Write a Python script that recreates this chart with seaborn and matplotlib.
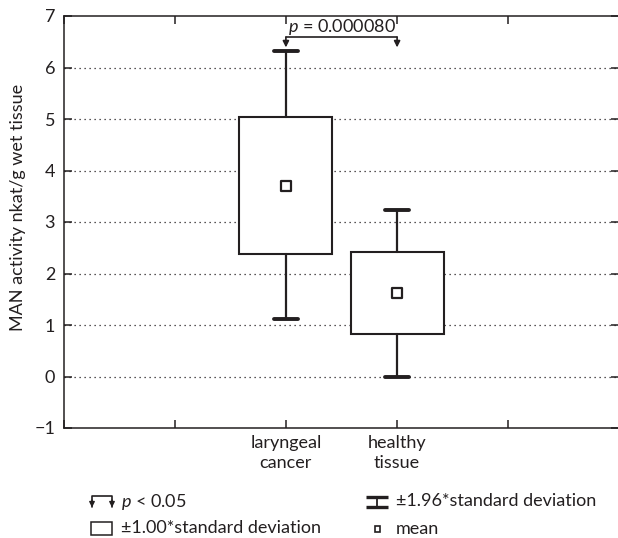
import numpy as np
import pandas as pd
import matplotlib
matplotlib.use("Agg")
import matplotlib.pyplot as plt
import seaborn as sns
from matplotlib.patches import Rectangle

# ---- data ----
groups = ["laryngeal\ncancer", "healthy\ntissue"]
means = [3.70, 1.63]
sd_low = [2.38, 0.825]      # mean - 1.00*SD
sd_high = [5.03, 2.42]      # mean + 1.00*SD
ci_low = [1.11, 0.00]       # mean - 1.96*SD
ci_high = [6.32, 3.24]      # mean + 1.96*SD
p_text = "0.000080"
y_ticks = [-1, 0, 1, 2, 3, 4, 5, 6, 7]

INK = "#231f20"
sns.set_theme(style="white")
plt.rcParams["font.family"] = ["Lato", "DejaVu Sans"]
plt.rcParams["font.weight"] = "normal"
plt.rcParams["text.color"] = INK
plt.rcParams["mathtext.fontset"] = "custom"
plt.rcParams["mathtext.it"] = "Lato:italic"
plt.rcParams["mathtext.rm"] = "Lato"
FS = 13

W, H = 618, 538
fig = plt.figure(figsize=(W / 100, H / 100), dpi=100)
L, R, T, B = 63.5, 619.5, 16, 428
ax = fig.add_axes([L / W, (H - B) / H, (R - L) / W, (B - T) / H])

df = pd.DataFrame({"group": groups, "mean": means})

stats = []
for i in range(len(groups)):
    stats.append(dict(med=means[i], q1=sd_low[i], q3=sd_high[i],
                      whislo=ci_low[i], whishi=ci_high[i], fliers=[], label=groups[i]))
ax.bxp(stats, positions=range(len(groups)), widths=0.836, patch_artist=True,
       showfliers=False,
       boxprops=dict(facecolor="white", edgecolor=INK, linewidth=1.5),
       whiskerprops=dict(color=INK, linewidth=1.6),
       capprops=dict(color=INK, linewidth=2.8),
       medianprops=dict(linewidth=0),
       capwidths=0.22, zorder=3)

sns.scatterplot(data=df, x="group", y="mean", marker="s", s=55, color="white",
                edgecolor=INK, linewidth=1.6, ax=ax, zorder=5, legend=False)

ax.set_xlim(-2, 3)
ax.set_ylim(-1, 7)
ax.set_xticks([-2, -1, 0, 1, 2, 3])
ax.set_xticklabels(["", "", groups[0], groups[1], "", ""], fontsize=FS,
                   color=INK, linespacing=1.35)
ax.set_yticks(y_ticks)
ax.set_yticklabels(["\u22121" if v < 0 else str(v) for v in y_ticks], fontsize=FS, color=INK)
ax.tick_params(axis="both", direction="in", length=6, width=1.1, color=INK,
               top=True, right=True, bottom=True, left=True)
ax.tick_params(axis="y", pad=6)
ax.tick_params(axis="x", pad=5)
for s in ax.spines.values():
    s.set_color(INK)
    s.set_linewidth(1.1)
    s.set_visible(True)
for v in range(0, 7):
    ax.axhline(v, color=INK, linestyle=(0, (1, 3)), linewidth=0.9, zorder=1)
ax.set_xlabel("")
ax.set_ylabel("")

# significance bracket
yb = 6.59
ax.plot([0, 1], [yb, yb], color=INK, linewidth=1.2, zorder=6)
for xx in [0, 1]:
    ax.annotate("", xy=(xx, 6.39), xytext=(xx, yb),
                arrowprops=dict(arrowstyle="-|>", color=INK, lw=1.2,
                                mutation_scale=9, shrinkA=0, shrinkB=0), zorder=6)
ax.text(0.5, 6.79, r"$p$ = " + p_text, ha="center", va="center",
        fontsize=FS, color=INK, zorder=7)

fig.text(18 / W, 1 - 207 / H, "MAN activity nkat/g wet tissue", rotation=90,
         ha="center", va="center", fontsize=FS, color=INK)

# legend drawn in pixel space
lg = fig.add_axes([0, 0, 1, 1], facecolor="none")
lg.set_xlim(0, W)
lg.set_ylim(H, 0)
lg.axis("off")
lg.plot([92, 92, 112, 112], [507, 496, 496, 507], color=INK, lw=1.2)
for xx in [92, 112]:
    lg.annotate("", xy=(xx, 507.5), xytext=(xx, 500),
                arrowprops=dict(arrowstyle="-|>", color=INK, lw=1.0,
                                mutation_scale=8, shrinkA=0, shrinkB=0))
lg.text(121, 502, r"$p$ < 0.05", ha="left", va="center", fontsize=FS, color=INK)
lg.add_patch(Rectangle((91, 521.5), 21, 13.5, facecolor="white", edgecolor=INK, lw=1.1))
lg.text(121, 528, "\u00b11.00*standard deviation", ha="left", va="center", fontsize=FS, color=INK)
lg.plot([366, 388], [497.3, 497.3], color=INK, lw=2.4, solid_capstyle="butt")
lg.plot([366, 388], [507.3, 507.3], color=INK, lw=2.4, solid_capstyle="butt")
lg.plot([377, 377], [497.3, 507.3], color=INK, lw=1.3)
lg.text(396, 501, "\u00b11.96*standard deviation", ha="left", va="center", fontsize=FS, color=INK)
lg.add_patch(Rectangle((374.5, 526), 5.5, 5.5, facecolor="white", edgecolor=INK, lw=1.2))
lg.text(396, 528.5, "mean", ha="left", va="center", fontsize=FS, color=INK)

fig.savefig("out.png", dpi=100)
